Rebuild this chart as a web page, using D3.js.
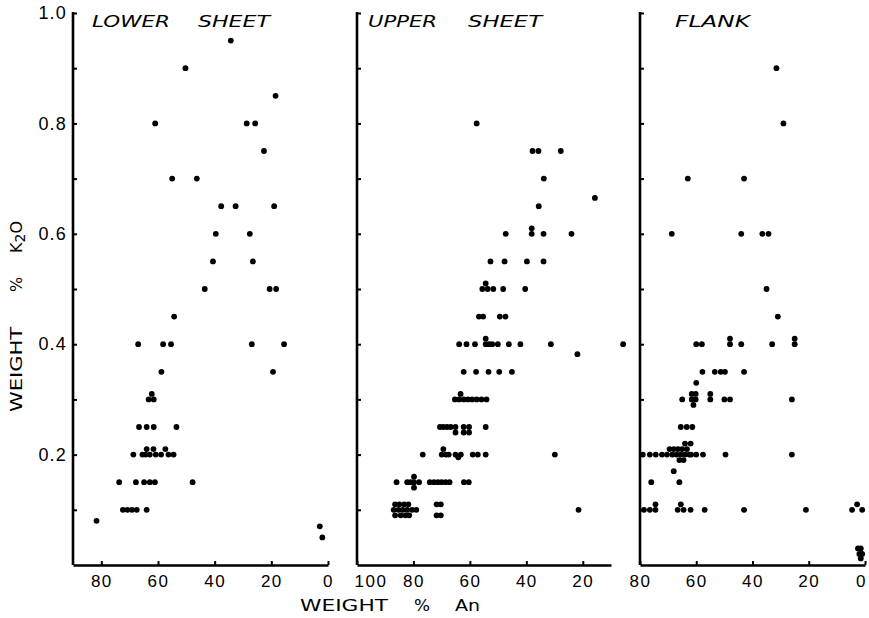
<!DOCTYPE html>
<html>
<head>
<meta charset="utf-8">
<script src="https://cdn.jsdelivr.net/npm/d3@7"></script>
<style>
  body { margin: 0; background: #fff; }
  svg { display: block; font-family: "DejaVu Sans", sans-serif; }
  .tick text { fill: #000; }
  .domain { stroke: #000; stroke-width: 2.6px; }
  .tick line { stroke: #000; stroke-width: 2px; }
</style>
</head>
<body>
<svg width="869" height="618"></svg>
<script>
// Data: [An wt %, K2O wt %]
const lowerSheet = [
  [34.3,0.95],[50.3,0.9],[18.5,0.85],[61,0.8],[28.7,0.8],[25.7,0.8],[22.6,0.75],
  [55,0.7],[46.3,0.7],[37.7,0.65],[32.6,0.65],[19,0.65],[39.6,0.6],[27.6,0.6],
  [40.6,0.55],[26.5,0.55],[43.5,0.5],[20.6,0.5],[18.3,0.5],[54.3,0.45],
  [67,0.4],[58.2,0.4],[55.4,0.4],[26.9,0.4],[15.5,0.4],[58.8,0.35],[19.4,0.35],
  [62.2,0.31],[63.3,0.3],[61.5,0.3],[66.7,0.25],[64,0.25],[61.5,0.25],[53.5,0.25],
  [64,0.21],[61.6,0.21],[57.4,0.21],[68.7,0.2],[65.5,0.2],[64.4,0.2],[62.9,0.2],
  [60.8,0.2],[58.9,0.2],[56.3,0.2],[54.5,0.2],[73.7,0.15],[67.8,0.15],[64.9,0.15],
  [62.9,0.15],[61.1,0.15],[47.8,0.15],[72.4,0.1],[70.8,0.1],[69.2,0.1],[67.5,0.1],
  [64,0.1],[81.7,0.08],[2.9,0.07],[2,0.05]
];
const upperSheet = [
  [57.6,0.8],[37.8,0.75],[35.7,0.75],[27.8,0.75],[33.8,0.7],[15.7,0.665],[35.6,0.65],
  [47.3,0.6],[38.1,0.61],[38.1,0.6],[33.9,0.6],[24,0.6],
  [52.7,0.55],[47.7,0.55],[39.8,0.55],[33.9,0.55],
  [55.6,0.5],[54.4,0.51],[53.7,0.5],[51.7,0.5],[48.2,0.5],[40.4,0.5],
  [56.8,0.45],[55.3,0.45],[49.4,0.45],[47.4,0.45],
  [63.8,0.4],[61.2,0.4],[58.2,0.4],[54.4,0.41],[54.4,0.4],[53.2,0.4],[52.1,0.4],
  [50.1,0.4],[46.2,0.4],[42.1,0.4],[31.3,0.4],[5.7,0.4],[21.9,0.382],
  [62.2,0.35],[57.8,0.35],[53.4,0.35],[49.6,0.35],[45.1,0.35],[63.3,0.31],
  [65.3,0.3],[63.8,0.3],[62.2,0.3],[60.7,0.3],[59.2,0.3],[57.6,0.3],[55.9,0.3],[54.1,0.3],
  [70.6,0.25],[69.4,0.25],[68.1,0.25],[66.8,0.25],[65.1,0.25],[65.1,0.24],[62.2,0.25],
  [62.2,0.24],[60.3,0.25],[60.3,0.24],[54.4,0.25],
  [76.7,0.2],[70,0.2],[69.4,0.21],[68.5,0.2],[67.5,0.2],[65.1,0.2],[64.1,0.195],
  [63.2,0.2],[59,0.2],[57.2,0.2],[54.4,0.2],[29.9,0.2],
  [86,0.15],[82.2,0.15],[81,0.15],[79.8,0.16],[79.8,0.15],[79.8,0.14],[78,0.15],
  [74.2,0.15],[72.7,0.15],[71.3,0.15],[70,0.15],[68.6,0.15],[67.2,0.15],[62.1,0.15],[60.4,0.15],
  [87,0.1],[86.5,0.11],[86.5,0.09],[85.3,0.1],[85,0.11],[84.5,0.09],[83.8,0.1],
  [83.3,0.11],[82.8,0.09],[82.2,0.1],[81.8,0.11],[81.5,0.09],[80.5,0.1],[79,0.1],
  [71.8,0.11],[71.8,0.09],[70.3,0.11],[70.3,0.09],[21.5,0.1]
];
const flank = [
  [31.5,0.9],[29,0.8],[63,0.7],[43,0.7],[68.7,0.6],[44,0.6],[36.5,0.6],[34.3,0.6],
  [35,0.5],[31,0.45],
  [60,0.4],[58,0.4],[48,0.41],[48,0.4],[44,0.4],[33,0.4],[25,0.41],[25,0.4],
  [57.8,0.35],[53.4,0.35],[51.3,0.35],[49.8,0.35],[43,0.35],[60,0.33],
  [65,0.3],[61.6,0.31],[60.2,0.31],[61.6,0.3],[60.2,0.3],[61,0.29],[55,0.31],[55,0.3],
  [50,0.3],[48,0.3],[26,0.3],
  [65.5,0.25],[63.4,0.25],[61.4,0.25],[64,0.22],[62,0.22],
  [79,0.2],[76.5,0.2],[74.4,0.2],[72.2,0.2],[70.4,0.2],[69.5,0.21],[68.5,0.2],[68,0.21],
  [67,0.2],[66.5,0.21],[66,0.19],[65.5,0.2],[65,0.21],[64.5,0.19],[64,0.2],[63.3,0.21],
  [62.5,0.2],[61.8,0.2],[60,0.2],[57.6,0.2],[49.6,0.2],[26,0.2],
  [68,0.17],[76,0.15],[66,0.15],
  [78.6,0.1],[76.5,0.1],[74.5,0.11],[74.5,0.1],[66.6,0.1],[65.5,0.11],[64.5,0.1],
  [62,0.1],[57,0.1],[43,0.1],[21,0.1],[4.6,0.1],[2.8,0.11],[1,0.1],
  [2.5,0.03],[1.5,0.03],[2,0.02],[1,0.02],[1.5,0.012]
];

const panelTitles = [["LOWER", "SHEET"], ["UPPER", "SHEET"], ["FLANK"]];
const yTickValues = [0.1, 0.2, 0.3, 0.4, 0.5, 0.6, 0.7, 0.8, 0.9, 1.0];
const yTickLabels = ["0.2", "0.4", "0.6", "0.8", "1.0"];
const xTickValues = [[80, 60, 40, 20, 0], [100, 80, 60, 40, 20], [80, 60, 40, 20, 0]];

const svg = d3.select("svg");
const plotTop = 13, plotBottom = 565;

const y = d3.scaleLinear().domain([0, 1]).range([plotBottom, plotTop]);

// panel geometry
const panels = [
  {data: lowerSheet, domain: [90, 0], range: [73, 328], words: [[92, 78], [198, 72]]},
  {data: upperSheet, domain: [100, 10], range: [357, 611], words: [[368, 69], [468, 74]]},
  {data: flank, domain: [80, 0], range: [640, 865], words: [[675, 75]]}
];

panels.forEach((p, i) => {
  const x = d3.scaleLinear().domain(p.domain).range(p.range);
  const g = svg.append("g");

  // Y axis, ticks pointing inward
  const yAxis = d3.axisLeft(y)
      .tickValues(yTickValues)
      .tickSizeInner(-4)
      .tickSizeOuter(0)
      .tickPadding(6)
      .tickFormat(d => (i === 0 && yTickLabels.includes(d3.format(".1f")(d))) ? d3.format(".1f")(d) : "");
  const ya = g.append("g")
      .attr("transform", `translate(${p.range[0]},0)`)
      .call(yAxis);
  ya.selectAll("text").style("font-size", "18px").attr("letter-spacing", 1.2);
  ya.select(".domain").attr("d", `M0,${plotTop - 1}V${plotBottom}`);

  // X axis, ticks pointing up
  const xAxis = d3.axisBottom(x)
      .tickValues(xTickValues[i])
      .tickSizeInner(-4)
      .tickSizeOuter(0)
      .tickPadding(10)
      .tickFormat(d3.format("d"));
  const xa = g.append("g")
      .attr("transform", `translate(0,${plotBottom})`)
      .call(xAxis);
  xa.selectAll("text").style("font-size", "17px").attr("letter-spacing", 1.5);
  // "100" sits right of its tick, the last "0" is pulled in from the edge
  xa.selectAll("text").filter(d => d === 100).attr("text-anchor", "start").attr("dx", -3);
  if (i === 2) xa.selectAll("text").filter(d => d === 0).attr("dx", -4);

  // points
  g.selectAll("circle")
    .data(p.data)
    .enter().append("circle")
      .attr("cx", d => x(d[0]))
      .attr("cy", d => y(d[1]))
      .attr("r", 2.9)
      .attr("fill", "#000");

  // panel title
  panelTitles[i].forEach((w, j) => {
    g.append("text")
      .attr("x", p.words[j][0])
      .attr("y", 27)
      .attr("textLength", p.words[j][1])
      .attr("lengthAdjust", "spacingAndGlyphs")
      .style("font-size", "16px")
      .style("font-style", "italic")
      .text(w);
  });
});

// axis titles
const xTitle = [["WEIGHT", 300, 88], ["%", 414, 16], ["An", 455, 25]];
xTitle.forEach(t => {
  svg.append("text")
    .attr("x", t[1]).attr("y", 611)
    .attr("textLength", t[2])
    .attr("lengthAdjust", "spacingAndGlyphs")
    .style("font-size", "16px")
    .text(t[0]);
});

const yTitle = svg.append("g").attr("transform", "translate(22,0) rotate(-90)");
yTitle.append("text").attr("x", -412).attr("y", 0)
  .attr("textLength", 85).attr("lengthAdjust", "spacingAndGlyphs")
  .style("font-size", "16px").text("WEIGHT");
yTitle.append("text").attr("x", -292).attr("y", 0)
  .style("font-size", "16px").text("%");
const k = yTitle.append("text").attr("x", -253).attr("y", 0).style("font-size", "16px");
k.append("tspan").text("K");
k.append("tspan").attr("dy", 3).style("font-size", "14px").text("2");
k.append("tspan").attr("dy", -3).text("O");
</script>
</body>
</html>
